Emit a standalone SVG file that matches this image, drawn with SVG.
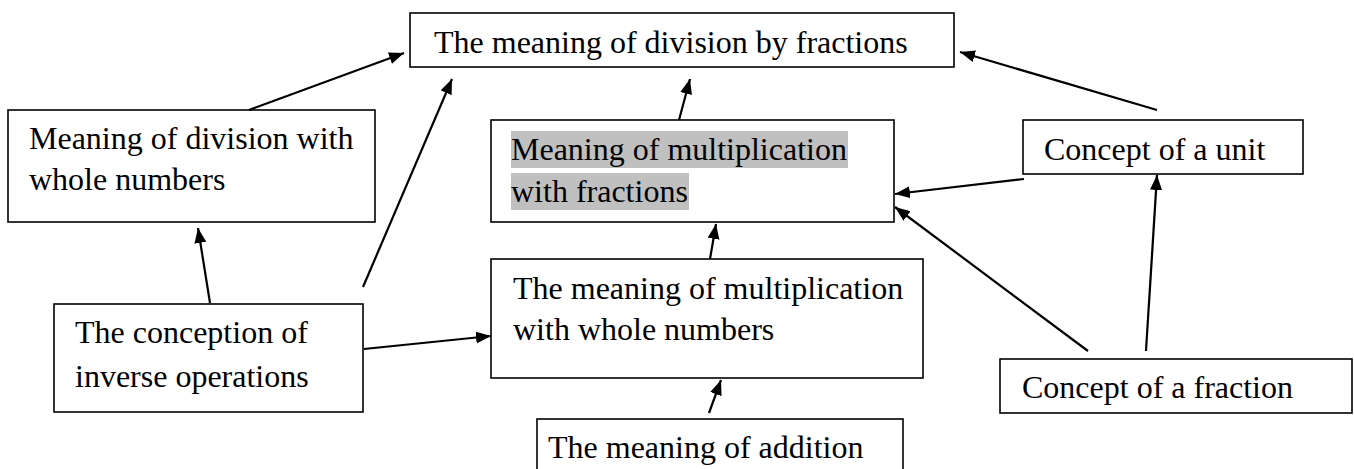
<svg xmlns="http://www.w3.org/2000/svg" width="1354" height="469" viewBox="0 0 1354 469">
<style>
.box{fill:#fff;stroke:#000;stroke-width:1.6}
.t{font-family:"Liberation Serif","Times New Roman",serif;font-size:32px;fill:#000}
.hl{fill:#c0c0c0}
.c{stroke:#000;stroke-width:2.2;fill:none;marker-end:url(#ah)}
</style>
<defs>
<marker id="ah" markerUnits="userSpaceOnUse" markerWidth="16" markerHeight="13" refX="15" refY="6" orient="auto">
<path d="M0,0 L15,6 L0,12 Z" fill="#000"/>
</marker>
</defs>
<rect width="1354" height="469" fill="#fff"/>
<g id="n1">
<rect class="box" x="410" y="13" width="544" height="54"/>
<text class="t" x="434" y="53">The meaning of division by fractions</text>
</g>
<g id="n2">
<rect class="box" x="8" y="110" width="367" height="112"/>
<text class="t" x="29" y="149">Meaning of division with</text>
<text class="t" x="29" y="190">whole numbers</text>
</g>
<g id="n3">
<rect class="box" x="491" y="120" width="403" height="102"/>
<rect class="hl" x="511" y="131" width="337" height="37"/>
<rect class="hl" x="511" y="173" width="178" height="37"/>
<text class="t" x="511" y="160">Meaning of multiplication</text>
<text class="t" x="511" y="202">with fractions</text>
</g>
<g id="n4">
<rect class="box" x="1023" y="120" width="280" height="54"/>
<text class="t" x="1044" y="160">Concept of a unit</text>
</g>
<g id="n5">
<rect class="box" x="54" y="304" width="309" height="108"/>
<text class="t" x="75" y="343">The conception of</text>
<text class="t" x="75" y="387">inverse operations</text>
</g>
<g id="n6">
<rect class="box" x="491" y="259" width="432" height="119"/>
<text class="t" x="513" y="299">The meaning of multiplication</text>
<text class="t" x="513" y="340">with whole numbers</text>
</g>
<g id="n7">
<rect class="box" x="537" y="419" width="366" height="70"/>
<text class="t" x="548" y="458">The meaning of addition</text>
</g>
<g id="n8">
<rect class="box" x="1000" y="359" width="352" height="54"/>
<text class="t" x="1022" y="398">Concept of a fraction</text>
</g>
<g id="connectors">
<line class="c" x1="249" y1="110" x2="404" y2="53"/>
<line class="c" x1="363" y1="287" x2="452" y2="79"/>
<line class="c" x1="210" y1="303" x2="198" y2="228"/>
<line class="c" x1="364" y1="349" x2="491" y2="336"/>
<line class="c" x1="679" y1="120" x2="690" y2="79"/>
<line class="c" x1="710" y1="259" x2="716" y2="224"/>
<line class="c" x1="709" y1="413" x2="721" y2="380"/>
<line class="c" x1="1024" y1="179" x2="895" y2="194"/>
<line class="c" x1="1088" y1="351" x2="895" y2="207"/>
<line class="c" x1="1146" y1="351" x2="1157" y2="175"/>
<line class="c" x1="1157" y1="110" x2="960" y2="52"/>
</g>
</svg>
